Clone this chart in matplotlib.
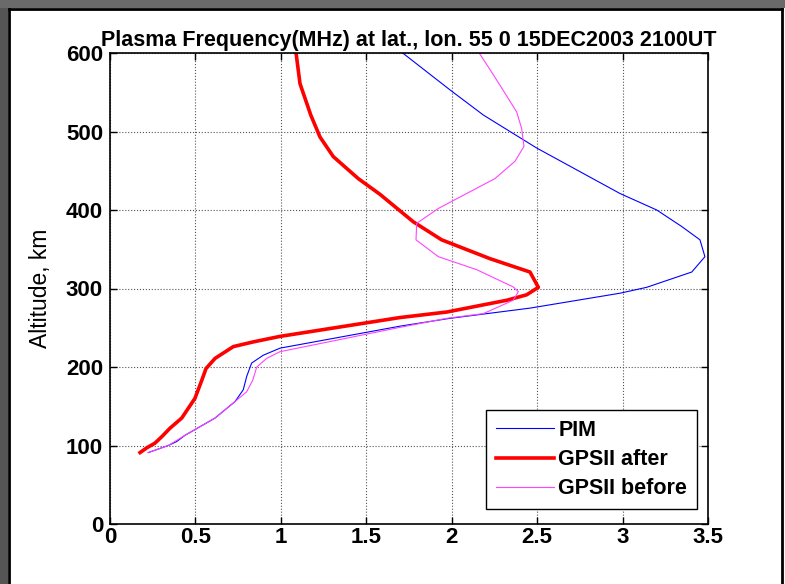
import numpy as np
import matplotlib.pyplot as plt
from matplotlib.patches import Rectangle
from matplotlib.lines import Line2D

plt.rcParams['font.family'] = ['Liberation Sans', 'DejaVu Sans']

# PIM profile (frequency MHz, altitude km)
pim_f = [0.224, 0.341, 0.390, 0.439, 0.615, 0.732, 0.780, 0.800, 0.829, 0.897, 0.995,
         1.697, 1.990, 2.458, 2.985, 3.141, 3.405, 3.482, 3.453, 3.346, 3.200, 2.985,
         2.497, 2.185, 1.990, 1.713]
pim_h = [91, 100, 105, 113, 135, 156, 171, 188, 205, 215, 224,
         252, 262, 275, 294, 301.5, 321, 340.5, 362, 379, 400, 421,
         479, 521, 553, 600]

# GPSII after
after_f = [0.176, 0.215, 0.263, 0.302, 0.351, 0.420, 0.497, 0.537, 0.562, 0.615, 0.722,
           0.839, 0.995, 1.697, 1.970, 2.322, 2.439, 2.507, 2.458, 2.224, 1.941, 1.775,
           1.580, 1.453, 1.307, 1.229, 1.175, 1.112, 1.089]
after_h = [91, 97, 103, 111, 122, 135, 160, 183, 198, 211, 226,
           232, 239, 263, 270, 285, 292, 301.5, 321, 338, 362, 385,
           420, 440, 468, 493, 521, 561, 600]

# GPSII before
before_f = [0.224, 0.341, 0.439, 0.615, 0.732, 0.800, 0.835, 0.859, 0.917, 0.995,
            1.697, 1.970, 2.185, 2.360, 2.390, 2.360, 2.146, 1.922, 1.791, 1.795,
            1.922, 2.253, 2.370, 2.423, 2.409, 2.380, 2.262, 2.161]
before_h = [91, 100, 113, 135, 156, 168.5, 183, 200, 211, 219.5,
            250.5, 262, 268, 285, 296, 302, 324, 340.5, 362, 383,
            402, 440, 462, 481, 504, 525, 566, 600]

title = 'Plasma Frequency(MHz) at lat., lon. 55 0 15DEC2003 2100UT'

W, H = 785, 584
fig = plt.figure(figsize=(W / 100, H / 100), dpi=100, facecolor='white')

# window frame (gray strips + black border)
fig.patches.append(Rectangle((0, 0), 8 / W, 1, transform=fig.transFigure,
                             facecolor='#555555', edgecolor='none', zorder=-5))
fig.patches.append(Rectangle((0, 1 - 8 / H), 1, 8 / H, transform=fig.transFigure,
                             facecolor='#6a6a6a', edgecolor='none', zorder=-5))
fig.lines.append(Line2D([9 / W, 9 / W], [0, 1 - 9 / H], transform=fig.transFigure,
                        color='black', lw=2))
fig.lines.append(Line2D([9 / W, 782 / W], [1 - 9 / H, 1 - 9 / H], transform=fig.transFigure,
                        color='black', lw=2))
fig.lines.append(Line2D([782 / W, 782 / W], [0, 1 - 9 / H], transform=fig.transFigure,
                        color='black', lw=2))

ax = fig.add_axes([110 / W, 1 - 524 / H, 598 / W, 471 / H])
ax.plot(pim_f, pim_h, color='#0000ff', lw=0.8, label='PIM')
ax.plot(after_f, after_h, color='#ff0000', lw=2.6, label='GPSII after')
ax.plot(before_f, before_h, color='#ff44ff', lw=0.8, label='GPSII before')

ax.set_xlim(0, 3.5)
ax.set_ylim(0, 600)
ax.set_xticks([0, 0.5, 1, 1.5, 2, 2.5, 3, 3.5])
ax.set_xticklabels(['0', '0.5', '1', '1.5', '2', '2.5', '3', '3.5'])
ax.set_yticks([0, 100, 200, 300, 400, 500, 600])
ax.grid(True, color='#555555', linestyle=':', linewidth=0.8)
ax.tick_params(direction='in', top=True, right=True, length=5, width=1,
               labelsize=16)
ax.tick_params(axis='y', pad=5)
ax.tick_params(axis='x', pad=2)
for lab in ax.get_xticklabels() + ax.get_yticklabels():
    lab.set_fontweight('bold')
for s in ax.spines.values():
    s.set_linewidth(1.2)

ax.set_title(title, fontsize=15.5, fontweight='bold', pad=5)
ax.set_ylabel('Altitude, km', fontsize=16.5, labelpad=10)

leg = ax.legend(loc='lower right', bbox_to_anchor=(697 / W, 1 - 509 / H),
                bbox_transform=fig.transFigure, fancybox=False, framealpha=1,
                edgecolor='black', handlelength=2.7, handletextpad=0.2,
                borderpad=0.45, labelspacing=0.38, borderaxespad=0,
                prop={'size': 15.5, 'weight': 'bold'})
leg.get_frame().set_linewidth(1.0)

fig.savefig('out.png', dpi=100, facecolor=fig.get_facecolor())
